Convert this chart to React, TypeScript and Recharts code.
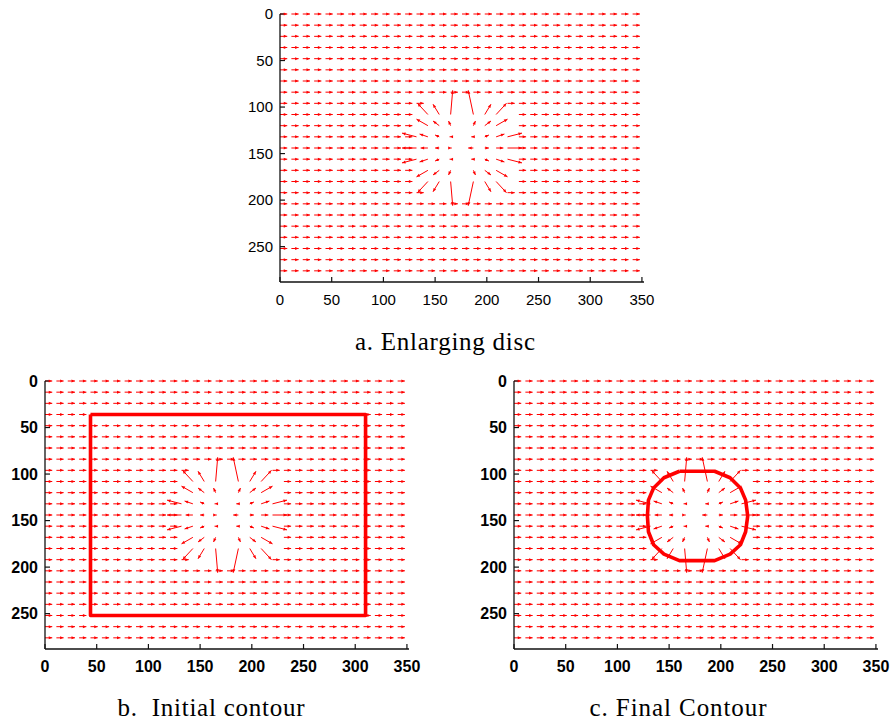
import React from 'react';
import { ComposedChart, Line, XAxis, YAxis } from 'recharts';

// tick labels
const xTicks = [0, 50, 100, 150, 200, 250, 300, 350];
const yTicks = [0, 50, 100, 150, 200, 250];

// sampling grid of the force field (image pixels, 352 x 288)
const gridCols = [0, 11, 22, 33, 44, 55, 66, 77, 88, 99, 110, 121, 132, 143, 154, 165, 176, 187, 198, 209, 220, 231, 242, 253, 264, 275, 286, 297, 308, 319, 330, 341];
const gridRows = [0, 12, 24, 36, 48, 60, 72, 84, 96, 108, 120, 132, 144, 156, 168, 180, 192, 204, 216, 228, 240, 252, 264, 276];

// background flow: every arrow points right with this length
const flowDx = 7;

// arrows inside the disc: [x, y, dx, dy]  (0,0 = no arrow)
const discArrows: number[][] = [
  [143, 96, 0, 0], [154, 96, 0, 0], [165, 96, 0, 0], [176, 96, 0, 0], [187, 96, 0, 0], [198, 96, 0, 0], [209, 96, 0, 0],
  [132, 108, 0, 0], [143, 108, -10, -12], [154, 108, -6, -11], [165, 108, 2, -26], [176, 108, 0, 0], [187, 108, -5, -26], [198, 108, 6, -11], [209, 108, 10, -12], [220, 108, 0, 0],
  [132, 120, 0, 0], [143, 120, -11, -7], [154, 120, -6, -5], [165, 120, -2, -5], [176, 120, 0, 0], [187, 120, 2, -5], [198, 120, 6, -5], [209, 120, 11, -7], [220, 120, 0, 0],
  [132, 132, -14, -4], [143, 132, -8, -3], [154, 132, -4, -2], [165, 132, -1, 0], [176, 132, 0, 0], [187, 132, -2, 0], [198, 132, 4, -2], [209, 132, 8, -3], [220, 132, 14, -4],
  [132, 144, -14, 0], [143, 144, -7, 0], [154, 144, -4, 0], [165, 144, 1, 0], [176, 144, 0, 0], [187, 144, -5, 0], [198, 144, 4, 0], [209, 144, 7, 0], [220, 144, 14, 0],
  [132, 156, -14, 4], [143, 156, -8, 3], [154, 156, -4, 2], [165, 156, -1, 0], [176, 156, 0, 0], [187, 156, -2, 0], [198, 156, 4, 2], [209, 156, 8, 3], [220, 156, 14, 4],
  [132, 168, 0, 0], [143, 168, -11, 7], [154, 168, -6, 5], [165, 168, -2, 5], [176, 168, 0, 0], [187, 168, 2, 5], [198, 168, 6, 5], [209, 168, 11, 7], [220, 168, 0, 0],
  [132, 180, 0, 0], [143, 180, -10, 12], [154, 180, -6, 11], [165, 180, 2, 26], [176, 180, 0, 0], [187, 180, -5, 26], [198, 180, 6, 11], [209, 180, 10, 12], [220, 180, 0, 0],
  [143, 192, 0, 0], [154, 192, 0, 0], [165, 192, 0, 0], [176, 192, 0, 0], [187, 192, 0, 0], [198, 192, 0, 0], [209, 192, 0, 0],
];

// contours
const initialContourX = [44, 310, 310, 44, 44];
const initialContourY = [36, 36, 252, 252, 36];
const finalContourX = [160, 194, 209, 219, 224, 226, 224, 219, 209, 194, 160, 145, 135, 130, 129, 130, 135, 145, 160];
const finalContourY = [97, 97, 104, 115, 128, 145, 162, 176, 186, 193, 193, 186, 176, 162, 145, 128, 115, 104, 97];

const captions = ['a. Enlarging disc', 'b.  Initial contour', 'c. Final Contour'];

const RED = '#ff0000';
const PLOT_W = 364;
const PLOT_H = 268;
const M_TOP = 10;
const M_RIGHT = 12;
const X_AXIS_H = 40;

type Pt = { x: number; y: number | null; head?: boolean; dx?: number; dy?: number };

const buildField = (): Pt[] => {
  const disc = new Map<string, number[]>();
  discArrows.forEach((a) => disc.set(`${a[0]},${a[1]}`, a));
  const pts: Pt[] = [];
  const add = (x: number, y: number, dx: number, dy: number) => {
    if (dx === 0 && dy === 0) return;
    pts.push({ x, y });
    pts.push({ x: x + dx, y: y + dy, head: true, dx, dy });
    pts.push({ x, y: null });
  };
  gridRows.forEach((r) =>
    gridCols.forEach((c) => {
      const d = disc.get(`${c},${r}`);
      if (d) add(c, r, d[2], d[3]);
      else add(c, r, flowDx, 0);
    })
  );
  return pts;
};

const field = buildField();

const toPts = (xs: number[], ys: number[]) => xs.map((x, i) => ({ x, y: ys[i] }));

const ArrowHead = (props: any) => {
  const { cx, cy, index, points, payload } = props;
  if (!payload || !payload.head || cx == null || cy == null) return <g key={`h${index}`} />;
  let ang: number;
  const prev = points && points[index - 1];
  if (prev && prev.x != null && prev.y != null) ang = Math.atan2(cy - prev.y, cx - prev.x);
  else ang = Math.atan2(payload.dy * 0.93, payload.dx * 1.03);
  const head = 3.5;
  const w = 1.5;
  const bx = cx - head * Math.cos(ang);
  const by = cy - head * Math.sin(ang);
  const px = -Math.sin(ang) * w;
  const py = Math.cos(ang) * w;
  return (
    <polygon
      key={`h${index}`}
      points={`${cx},${cy} ${bx + px},${by + py} ${bx - px},${by - py}`}
      fill={RED}
    />
  );
};

const axisStyle = { stroke: '#111', strokeWidth: 1.3 };
const tickStyle = { stroke: '#111', strokeWidth: 1.2 };

const Panel = ({ plotLeft, plotTop, yw, bold, contour }: { plotLeft: number; plotTop: number; yw: number; bold: boolean; contour?: { x: number; y: number }[] }) => {
  const tick = { fill: '#000', fontSize: bold ? 16 : 15, fontFamily: '"Liberation Sans", Arial, sans-serif', fontWeight: bold ? 700 : 400 };
  return (
    <div style={{ position: 'absolute', left: plotLeft - yw, top: plotTop - M_TOP }}>
      <ComposedChart
        width={yw + PLOT_W + M_RIGHT}
        height={M_TOP + PLOT_H + X_AXIS_H}
        margin={{ top: M_TOP, right: M_RIGHT, bottom: 0, left: 0 }}
      >
        <XAxis xAxisId="b" dataKey="x" type="number" domain={[0, 352]} ticks={xTicks} interval={0} height={X_AXIS_H}
          tickSize={-5} tickMargin={17} tick={tick} axisLine={axisStyle} tickLine={tickStyle} />
        <XAxis xAxisId="t" orientation="top" dataKey="x" type="number" domain={[0, 352]} ticks={xTicks} interval={0} height={0}
          tickSize={-5} tickFormatter={() => ''} axisLine={axisStyle} tickLine={tickStyle} allowDataOverflow />
        <YAxis yAxisId="l" dataKey="y" type="number" domain={[0, 288]} reversed ticks={yTicks} interval={0} width={yw}
          tickSize={-5} tickMargin={12} tick={tick} axisLine={axisStyle} tickLine={tickStyle} />
        <YAxis yAxisId="r" orientation="right" dataKey="y" type="number" domain={[0, 288]} reversed ticks={yTicks} interval={0} width={0}
          tickSize={-5} tickFormatter={() => ''} axisLine={axisStyle} tickLine={tickStyle} allowDataOverflow />
        <Line xAxisId="b" yAxisId="l" data={field} dataKey="y" type="linear" stroke={RED} strokeWidth={1}
          dot={ArrowHead} activeDot={false} connectNulls={false} isAnimationActive={false} legendType="none" />
        {contour && (
          <Line xAxisId="b" yAxisId="l" data={contour} dataKey="y" type="linear" stroke={RED} strokeWidth={3.6}
            strokeLinejoin="round" dot={false} activeDot={false} isAnimationActive={false} legendType="none" />
        )}
      </ComposedChart>
    </div>
  );
};

export default function App() {
  const capStyle = { fontFamily: '"Liberation Serif", "Times New Roman", serif', fontSize: 25, whiteSpace: 'pre' as const };
  return (
    <div style={{ position: 'absolute', left: 0, top: 0, width: 895, height: 724, background: '#fff', overflow: 'hidden' }}>
      <Panel plotLeft={280} plotTop={14} yw={60} bold={false} />
      <Panel plotLeft={45} plotTop={381} yw={45} bold contour={toPts(initialContourX, initialContourY)} />
      <Panel plotLeft={514} plotTop={381} yw={60} bold contour={toPts(finalContourX, finalContourY)} />
      <svg width={895} height={724} style={{ position: 'absolute', left: 0, top: 0, pointerEvents: 'none' }}>
        <text x={445} y={350} textAnchor="middle" style={capStyle} textLength={180} lengthAdjust="spacing">{captions[0]}</text>
        <text x={211} y={716} textAnchor="middle" style={capStyle} textLength={187} lengthAdjust="spacing">{captions[1]}</text>
        <text x={678} y={716} textAnchor="middle" style={capStyle} textLength={177} lengthAdjust="spacing">{captions[2]}</text>
      </svg>
    </div>
  );
}
